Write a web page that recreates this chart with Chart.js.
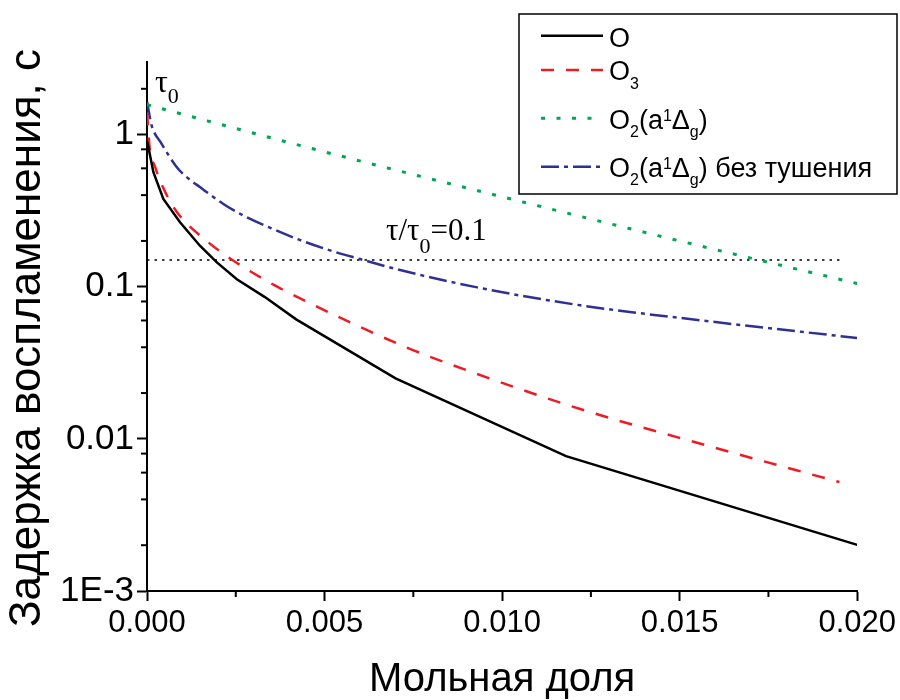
<!DOCTYPE html>
<html><head><meta charset="utf-8">
<script src="https://cdn.jsdelivr.net/npm/chart.js@4/dist/chart.umd.min.js"></script>
<style>html,body{margin:0;padding:0;background:#fff}canvas{display:block}</style>
</head><body>
<canvas id="c" width="900" height="700"></canvas>
<script>
// ---- data ----
const seriesNames = ['O', 'O3', 'O2(a1Δg)', 'O2(a1Δg) без тушения'];
const oX = [0, 0.00004, 0.00018, 0.00046, 0.00093, 0.00149, 0.00196, 0.00253, 0.00332, 0.0042, 0.0070, 0.0118, 0.0200];
const oY = [0.9, 0.826, 0.566, 0.378, 0.265, 0.186, 0.145, 0.112, 0.0855, 0.061, 0.025, 0.0077, 0.00201];
const o3X = [0, 0.00008, 0.00022, 0.00045, 0.00084, 0.00168, 0.0025, 0.0036, 0.0043, 0.0073, 0.0093, 0.0122, 0.0158, 0.0195];
const o3Y = [1.4, 0.80, 0.62, 0.45, 0.31, 0.20, 0.145, 0.102, 0.084, 0.040, 0.0267, 0.0157, 0.0090, 0.0052];
const o2X = [0, 0.005, 0.010, 0.015, 0.020];
const o2Y = [1.57, 0.77, 0.39, 0.20, 0.105];
const o2nqX = [0, 0.00013, 0.0004, 0.00084, 0.0011, 0.0015, 0.00215, 0.0027, 0.0035, 0.0043, 0.0052, 0.0060, 0.0070, 0.0093, 0.0122, 0.0159, 0.0200];
const o2nqY = [1.65, 1.15, 0.88, 0.61, 0.53, 0.45, 0.35, 0.295, 0.242, 0.203, 0.172, 0.152, 0.131, 0.099, 0.0755, 0.059, 0.046];
const refX = [0, 0.0195];
const refY = [0.15, 0.15];
const xTicks = [0, 0.005, 0.010, 0.015, 0.020];
const xTickLabels = ['0.000', '0.005', '0.010', '0.015', '0.020'];
const xMinorTicks = [0.0025, 0.0075, 0.0125, 0.0175];
const yTicks = [0.001, 0.01, 0.1, 1];
const yTickLabels = ['1E-3', '0.01', '0.1', '1'];
const yMinorTicks = [0.002, 0.004, 0.006, 0.008, 0.02, 0.04, 0.06, 0.08, 0.2, 0.4, 0.6, 0.8, 2];
const xTitle = 'Мольная доля';
const yTitle = 'Задержка воспламенения, с';

const SANS = '"Liberation Sans", Arial, sans-serif';
const SERIF = '"Liberation Serif", "Times New Roman", serif';
const pts = (xs, ys) => xs.map((x, i) => ({x: x, y: ys[i]}));

function rich(ctx, x, yb, parts, family) {
  parts.forEach(p => {
    ctx.font = p.s + 'px ' + family;
    ctx.fillText(p.t, x, yb + (p.dy || 0));
    x += ctx.measureText(p.t).width + (p.gap || 0);
  });
}

const decor = {
  id: 'decor',
  afterDraw(chart) {
    const ctx = chart.ctx, xs = chart.scales.x, ys = chart.scales.y;
    ctx.save();
    // minor ticks
    ctx.strokeStyle = '#000'; ctx.lineWidth = 2;
    yMinorTicks.forEach(v => {
      const py = ys.getPixelForValue(v);
      ctx.beginPath(); ctx.moveTo(xs.left - 6, py); ctx.lineTo(xs.left, py); ctx.stroke();
    });
    xMinorTicks.forEach(v => {
      const px = xs.getPixelForValue(v);
      ctx.beginPath(); ctx.moveTo(px, ys.bottom); ctx.lineTo(px, ys.bottom + 6); ctx.stroke();
    });
    // y title
    ctx.save();
    ctx.translate(28, 338);
    ctx.rotate(-Math.PI / 2);
    ctx.font = '44px ' + SANS;
    ctx.fillStyle = '#000';
    ctx.textAlign = 'center'; ctx.textBaseline = 'middle';
    ctx.fillText(yTitle, 0, 0);
    ctx.restore();
    // legend
    ctx.fillStyle = '#fff';
    ctx.fillRect(519, 14, 378, 180);
    ctx.lineWidth = 1.5; ctx.strokeStyle = '#000';
    ctx.strokeRect(519, 14, 378, 180);
    const lineY = [35.7, 70, 118.3, 166.7];
    const baseY = [46.5, 80, 128.5, 177];
    chart.data.datasets.slice(0, 4).forEach((ds, i) => {
      ctx.save();
      ctx.strokeStyle = ds.borderColor; ctx.lineWidth = ds.borderWidth;
      ctx.setLineDash(ds.borderDash || []);
      ctx.beginPath(); ctx.moveTo(541, lineY[i]); ctx.lineTo(603, lineY[i]); ctx.stroke();
      ctx.restore();
    });
    ctx.fillStyle = '#000'; ctx.textAlign = 'left'; ctx.textBaseline = 'alphabetic';
    const o2parts = [{t:'O',s:27},{t:'2',s:16,dy:8},{t:'(a',s:27},{t:'1',s:16,dy:-8},{t:'Δ',s:27},{t:'g',s:16,dy:8},{t:')',s:27}];
    rich(ctx, 609, baseY[0], [{t:'O',s:27}], SANS);
    rich(ctx, 609, baseY[1], [{t:'O',s:27},{t:'3',s:16,dy:9}], SANS);
    rich(ctx, 609, baseY[2], o2parts, SANS);
    rich(ctx, 609, baseY[3], o2parts.concat([{t:' без тушения',s:27}]), SANS);
    // annotations
    rich(ctx, 155, 92, [{t:'τ',s:32},{t:'0',s:22,dy:11}], SERIF);
    rich(ctx, 386, 240, [{t:'τ/τ',s:31},{t:'0',s:22,dy:13},{t:'=0.1',s:31}], SERIF);
    ctx.restore();
  }
};

new Chart(document.getElementById('c'), {
  type: 'line',
  data: {
    datasets: [
      {label: seriesNames[0], data: pts(oX, oY), borderColor: '#000000', borderWidth: 2.5, borderDash: []},
      {label: seriesNames[1], data: pts(o3X, o3Y), borderColor: '#ed1c24', borderWidth: 2.5, borderDash: [13, 12], cubicInterpolationMode: 'monotone'},
      {label: seriesNames[2], data: pts(o2X, o2Y), borderColor: '#00a651', borderWidth: 3, borderDash: [4, 11.5], cubicInterpolationMode: 'monotone'},
      {label: seriesNames[3], data: pts(o2nqX, o2nqY), borderColor: '#2e3192', borderWidth: 2.5, borderDash: [18, 5, 4, 5], cubicInterpolationMode: 'monotone'},
      {label: 'τ/τ0=0.1', data: pts(refX, refY), borderColor: '#000000', borderWidth: 1.5, borderDash: [2.5, 5]}
    ]
  },
  options: {
    responsive: false, animation: false, devicePixelRatio: 1,
    elements: {point: {radius: 0}, line: {tension: 0, fill: false}},
    layout: {padding: {top: 62, right: 42, left: 0, bottom: 0}},
    plugins: {legend: {display: false}, tooltip: {enabled: false}},
    scales: {
      x: {
        type: 'linear', min: 0, max: 0.02,
        afterBuildTicks: s => { s.ticks = xTicks.map(v => ({value: v})); },
        afterFit: s => { s.height = 109; },
        ticks: {
          autoSkip: false, maxRotation: 0, padding: 4, color: '#000',
          font: {family: SANS, size: 31},
          callback: (v) => xTickLabels[xTicks.indexOf(v)] ?? ''
        },
        grid: {display: true, drawOnChartArea: false, drawTicks: true, tickLength: 10, tickColor: '#000', tickWidth: 2},
        border: {display: true, color: '#000', width: 2},
        title: {display: true, text: xTitle, color: '#000', font: {family: SANS, size: 40, lineHeight: 1}, padding: {top: 0, bottom: 0}}
      },
      y: {
        type: 'logarithmic', min: 0.001, max: 3,
        afterBuildTicks: s => { s.ticks = yTicks.map(v => ({value: v})); },
        afterFit: s => { s.width = 147; },
        ticks: {
          autoSkip: false, padding: 3, color: '#000',
          font: {family: SANS, size: 35},
          callback: (v) => yTickLabels[yTicks.indexOf(v)] ?? ''
        },
        grid: {display: true, drawOnChartArea: false, drawTicks: true, tickLength: 10, tickColor: '#000', tickWidth: 2},
        border: {display: true, color: '#000', width: 2}
      }
    }
  },
  plugins: [decor]
});
</script>
</body></html>
